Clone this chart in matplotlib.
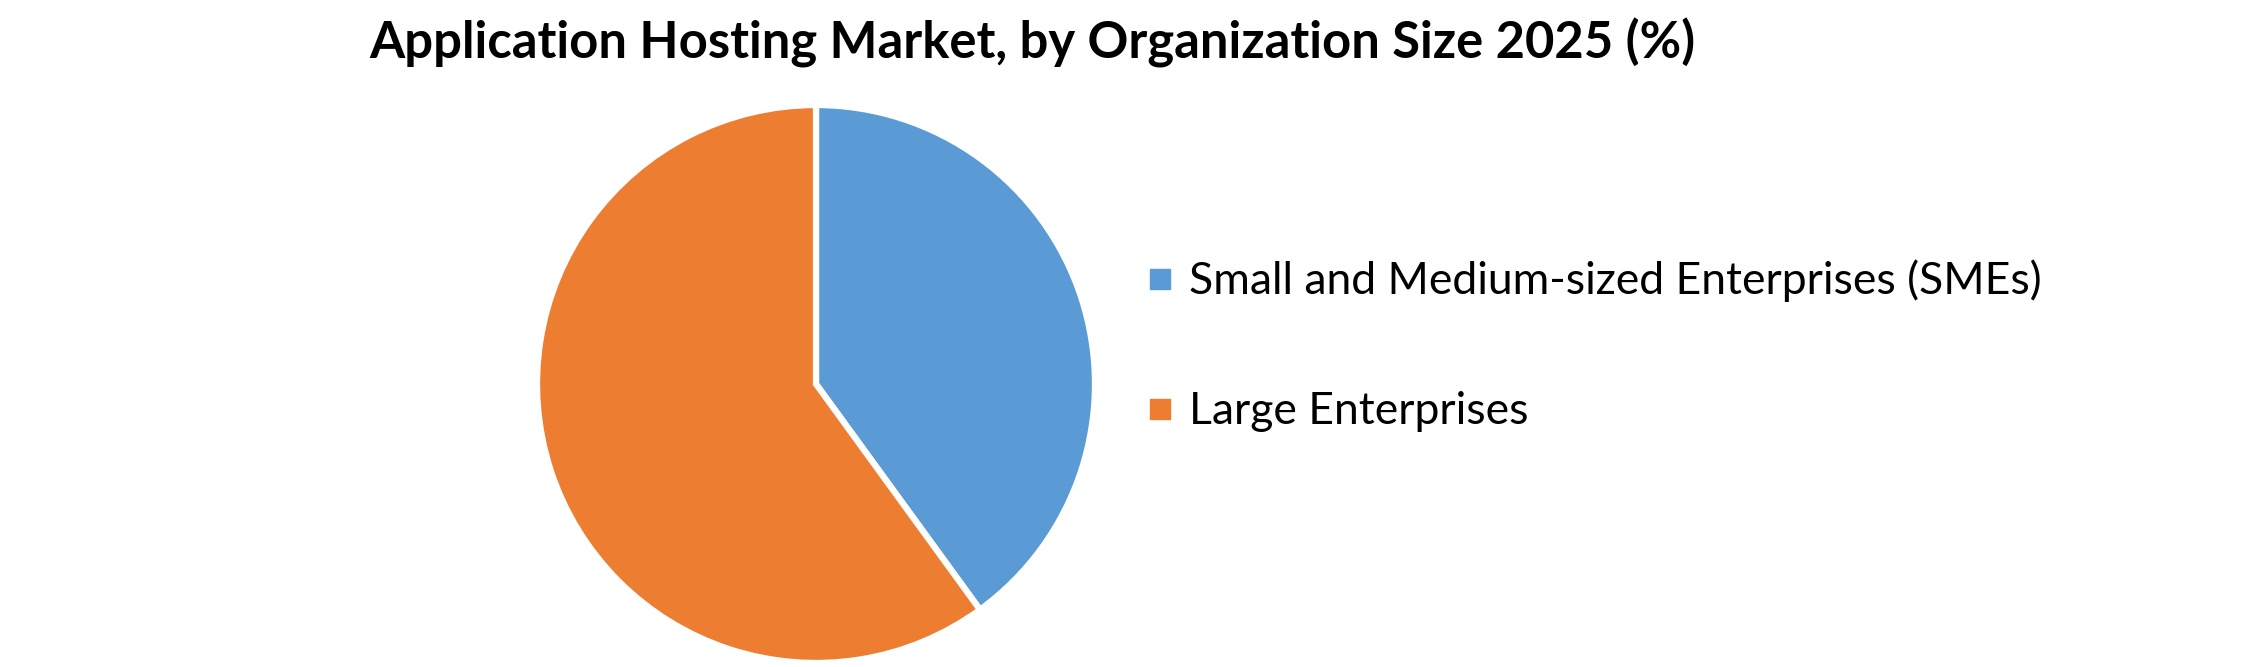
import matplotlib
matplotlib.use("Agg")
import matplotlib.pyplot as plt
from matplotlib.lines import Line2D

categories = ["Small and Medium-sized Enterprises (SMEs)", "Large Enterprises"]
shares = [40, 60]
colors = ["#5B9BD5", "#ED7D31"]
title = "Application Hosting Market, by Organization Size 2025 (%)"

W, H = 2245, 667
fig = plt.figure(figsize=(W / 100, H / 100), dpi=100)
fig.patch.set_facecolor("white")

cx, cy, r = 816, 384, 279
ax = fig.add_axes([(cx - r) / W, (H - cy - r) / H, 2 * r / W, 2 * r / H])
ax.pie(shares, colors=colors, startangle=90, counterclock=False,
       wedgeprops=dict(edgecolor="white", linewidth=4.5))
ax.set_xlim(-1.0, 1.0)
ax.set_ylim(-1.0, 1.0)
ax.set_aspect("equal")

fig.text(1032 / W, 1 - 43 / H, title, ha="center", va="center",
         fontsize=36.5, fontweight="bold", family="Lato", color="black")

handles = [Line2D([], [], marker="s", linestyle="none", markersize=14.5,
                  markerfacecolor=c, markeredgecolor=c) for c in colors]
fig.legend(handles, categories, loc="center left",
           bbox_to_anchor=(1107 / W, 1 - 346 / H), frameon=False,
           prop=dict(family="Lato", size=32), labelspacing=2.0,
           handlelength=0.6, handletextpad=0.35)

fig.savefig("out.png", dpi=100, facecolor="white")
